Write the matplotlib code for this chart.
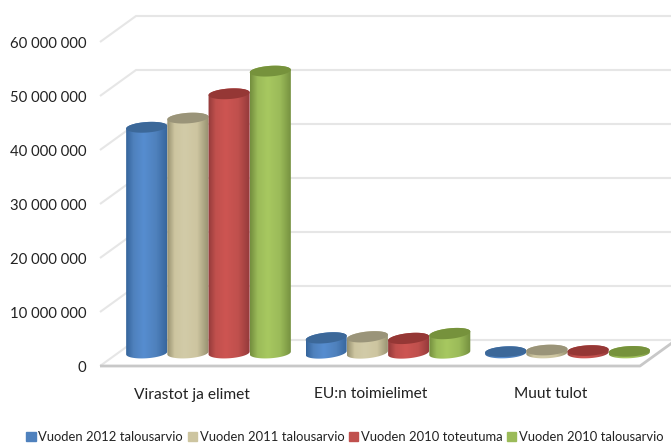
import numpy as np
import matplotlib
matplotlib.use('Agg')
import matplotlib.pyplot as plt
from matplotlib.colors import LinearSegmentedColormap
from matplotlib.patches import Patch, Polygon
from matplotlib.transforms import IdentityTransform

categories = ['Virastot ja elimet', 'EU:n toimielimet', 'Muut tulot']
series = ['Vuoden 2012 talousarvio', 'Vuoden 2011 talousarvio',
          'Vuoden 2010 toteutuma', 'Vuoden 2010 talousarvio']
v2012 = [41800000, 2800000, 250000]
v2011 = [43500000, 3000000, 550000]
v2010a = [48000000, 2700000, 450000]
v2010b = [52200000, 3600000, 300000]
yticks = [0, 10000000, 20000000, 30000000, 40000000, 50000000, 60000000]
ylabels = ['0', '10 000 000', '20 000 000', '30 000 000', '40 000 000', '50 000 000', '60 000 000']

plt.rcParams['font.family'] = ['Lato', 'DejaVu Sans']

W, H = 671, 443
group_px = 179.5
bar_px = 41.2
px_per_unit = 54.0 / 1e7
mid_zero = 353.0   # pixel row of value 0 in the middle of the depth
x0 = 208.5         # pixel column of first group centre
depth_x, depth_y = 18, 13
ell_h = 10.5

fig = plt.figure(figsize=(W / 100, H / 100), dpi=100)
ax = fig.add_axes([0, 0, 1, 1])
ax.axis('off')
xlim = (-x0 / group_px, (W - x0) / group_px)
ylim = ((mid_zero - H) / px_per_unit, mid_zero / px_per_unit)
ax.set_xlim(xlim)
ax.set_ylim(ylim)


def to_px(x, v):
    return ax.transData.transform((x, v))


def from_px(px, py):
    return ax.transData.inverted().transform((px, py))


# walls and floor
grid_col = '#e6e6e6'
x_start = (118 - x0) / group_px
x_end = (658 - x0) / group_px
for t in yticks:
    p = to_px(x_start, t)
    q = to_px(x_end, t)
    xs = [p[0] - depth_x, p[0] + depth_x, q[0] + depth_x]
    ys = [p[1] - depth_y, p[1] + depth_y, p[1] + depth_y]
    ax.plot(xs, ys, color=grid_col, lw=1.5, transform=IdentityTransform(), zorder=1,
            solid_capstyle='butt')
p = to_px(x_start, 0)
q = to_px(x_end, 0)
ax.plot([p[0] - depth_x, q[0] - depth_x, q[0] + depth_x],
        [p[1] - depth_y, p[1] - depth_y, p[1] + depth_y],
        color='#c8c8c8', lw=2, transform=IdentityTransform(), zorder=1.5, solid_capstyle='butt')

styles = [
    ('#35649b', '#568dd0', '#3c6899', '#4f81bd'),
    ('#96906f', '#d2cba8', '#9a9479', '#cdc5a0'),
    ('#93393a', '#cd5552', '#953735', '#c0504d'),
    ('#738e3e', '#a7c860', '#76923c', '#9bbb59'),
]
tilts = [4, 6, 3]
grad = np.linspace(0, 1, 128).reshape(1, -1)
values = [v2012, v2011, v2010a, v2010b]


def ellipse_pts(cx, cy, a, b, tilt, t):
    r = np.radians(tilt)
    ex = a * np.cos(t)
    ey = b * np.sin(t)
    return cx + ex * np.cos(r) - ey * np.sin(r), cy + ex * np.sin(r) + ey * np.cos(r)


for g in range(len(categories)):
    for s in range(len(series)):
        val = values[s][g]
        xc = g + (s - 1.5) * bar_px / group_px
        edge, mid, top, base = styles[s]
        cmap = LinearSegmentedColormap.from_list('c', [(0, edge), (0.18, base), (0.42, mid),
                                                       (0.72, base), (1, edge)])
        c_top = to_px(xc, val)
        c_bot = to_px(xc, 0)
        a = bar_px / 2
        b = ell_h / 2
        t = np.linspace(np.pi, 2 * np.pi, 40)
        bx, by = ellipse_pts(c_bot[0], c_bot[1], a, b, tilts[g], t)
        t2 = np.linspace(0, np.pi, 40)
        tx, ty = ellipse_pts(c_top[0], c_top[1], a, b, tilts[g], t2)
        verts = np.column_stack([np.r_[bx, tx], np.r_[by, ty]])
        body = Polygon(verts, closed=True, transform=IdentityTransform(), facecolor='none',
                       edgecolor='none')
        ax.add_patch(body)
        y_low = from_px(0, c_bot[1] - 10)[1]
        y_high = from_px(0, c_top[1] + 10)[1]
        im = ax.imshow(grad, cmap=cmap, aspect='auto', zorder=2 + g + s * 0.1,
                       extent=(xc - 0.5 * bar_px / group_px, xc + 0.5 * bar_px / group_px, y_low, y_high))
        im.set_clip_path(body)
        t3 = np.linspace(0, 2 * np.pi, 80)
        ex, ey = ellipse_pts(c_top[0], c_top[1], a, b, tilts[g], t3)
        ax.add_patch(Polygon(np.column_stack([ex, ey]), closed=True, transform=IdentityTransform(),
                             facecolor=top, edgecolor='none', zorder=2.05 + g + s * 0.1))
ax.set_xlim(xlim)
ax.set_ylim(ylim)

# tick labels, front of the floor
for t, lab in zip(yticks, ylabels):
    p = to_px(x_start, t)
    ax.text(86, p[1] - depth_y, lab, transform=IdentityTransform(), ha='right', va='center_baseline',
            fontsize=10.7, color='#222222')
for g, lab in enumerate(categories):
    p = to_px(g, 0)
    ax.text(p[0] - 17, H - 393, lab, transform=IdentityTransform(), ha='center', va='center_baseline',
            fontsize=11.2, color='#222222')

handles = [Patch(color=st[3], label=n) for st, n in zip(styles, series)]
leg = fig.legend(handles=handles, ncol=4, loc='center', bbox_to_anchor=(345 / W, (H - 437) / H), frameon=False,
                 fontsize=9.4, handlelength=0.72, handleheight=0.72, handletextpad=0.2, columnspacing=0.35,
                 labelcolor='#222222', borderpad=0, borderaxespad=0)

fig.savefig('out.png', dpi=100)
